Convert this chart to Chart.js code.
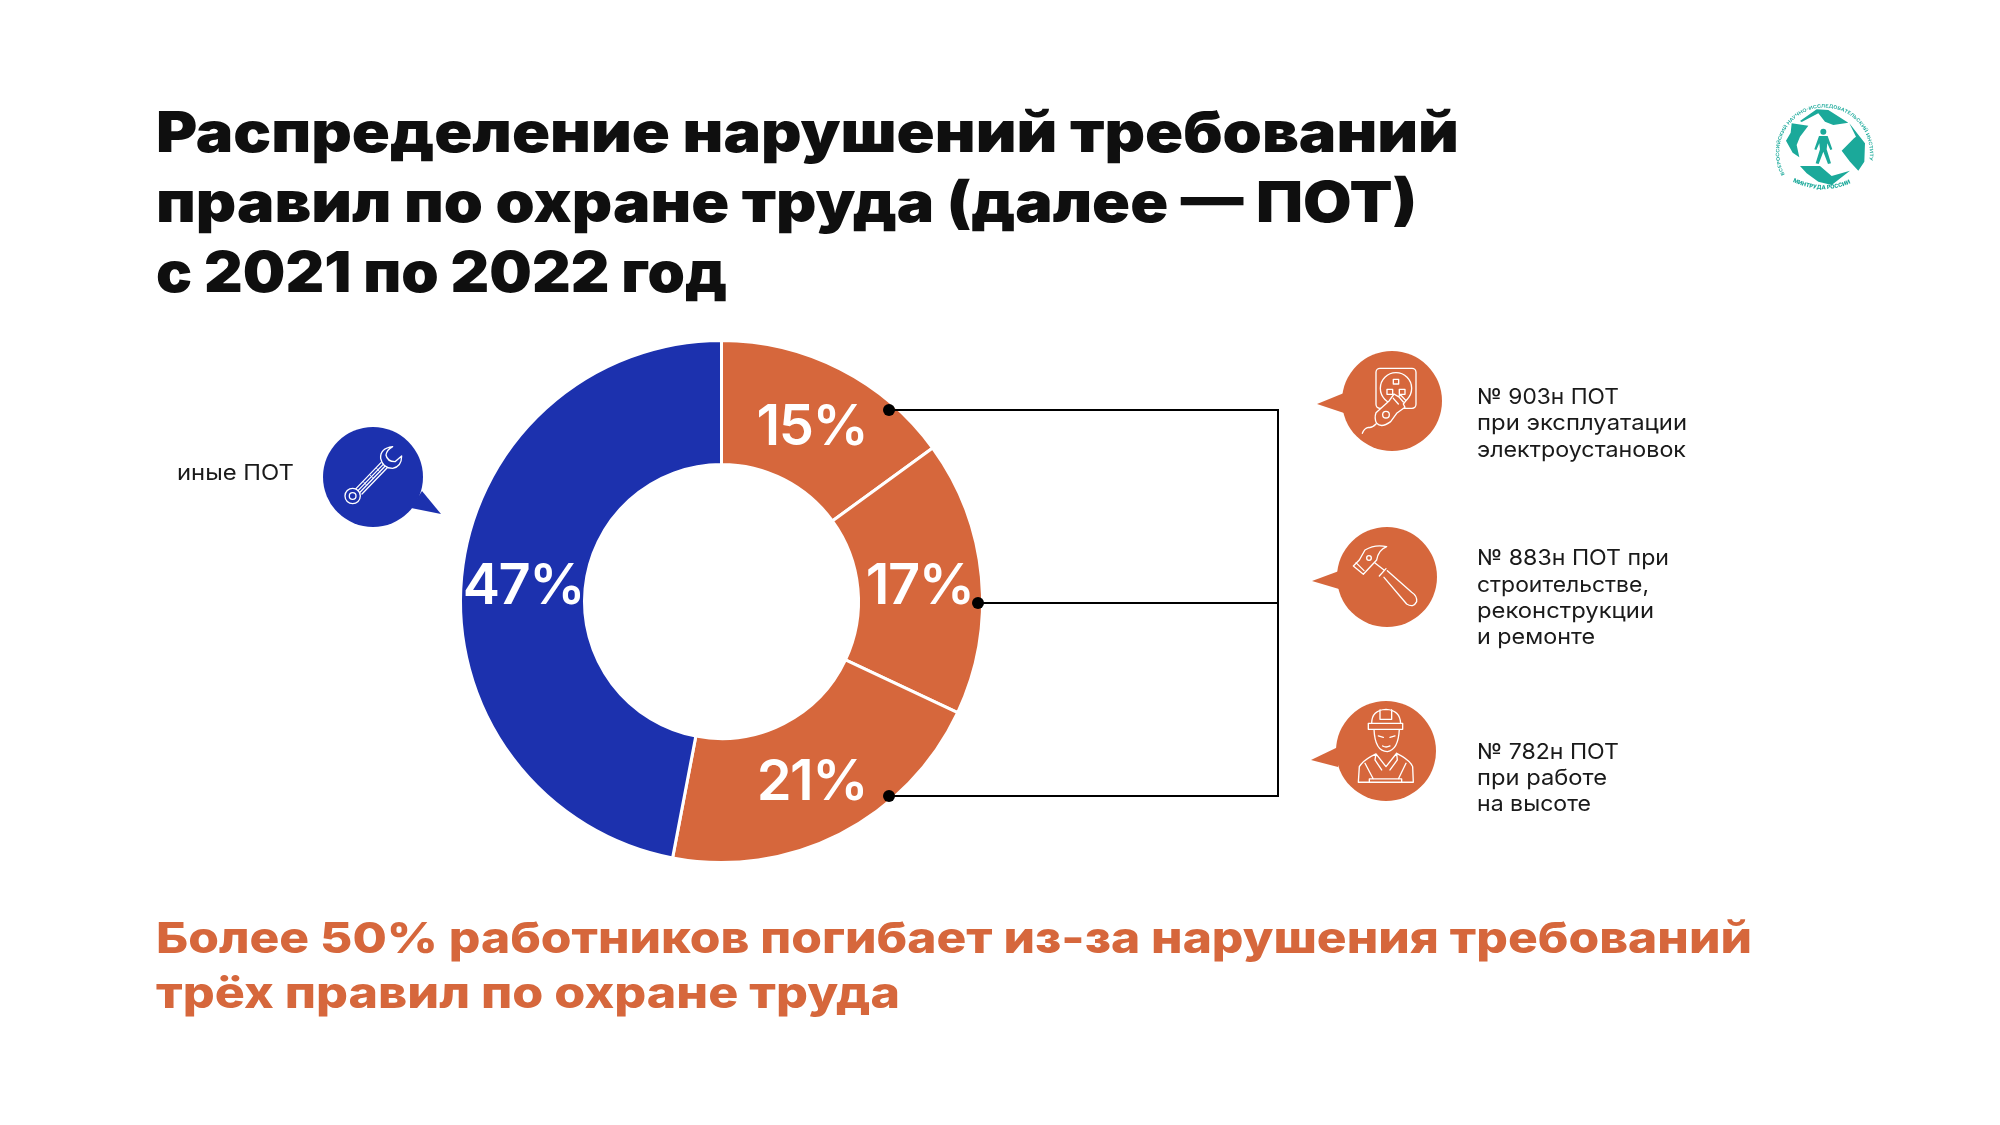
<!DOCTYPE html>
<html lang="ru"><head><meta charset="utf-8">
<style>
html,body{margin:0;padding:0;background:#fff;width:2000px;height:1125px;overflow:hidden}
canvas,svg{position:absolute;left:0;top:0}
text{font-family:Inter,"Open Sans",sans-serif}
</style>
<script src="https://cdn.jsdelivr.net/npm/chart.js@4"></script>
</head><body>
<canvas id="c" width="2000" height="1125" style="width:2000px;height:1125px"></canvas>
<svg id="s" width="2000" height="1125" viewBox="0 0 2000 1125" xmlns="http://www.w3.org/2000/svg">
  <g stroke="#000" stroke-width="2" fill="none"><path d="M889 410H1278M978 603H1278M889 796H1278M1278 409V797"/></g>
  <g fill="#000"><circle cx="889" cy="410" r="6"/><circle cx="978" cy="603" r="6"/><circle cx="889" cy="796" r="6"/></g>
  <g fill="#D6673C">
    <circle cx="1392" cy="401" r="50"/><path d="M1317 404L1344 393V413Z"/>
    <circle cx="1387" cy="577" r="50"/><path d="M1312 581L1339 571V589Z"/>
    <circle cx="1386" cy="751" r="50"/><path d="M1311 760L1338 747V767Z"/>
  </g>
  <path fill="#1C31AE" d="M441 514L422 491L411 508Z"/><circle cx="373" cy="477" r="50" fill="#1C31AE"/>
  <g transform="translate(1300 330) scale(.3333)" fill="none" stroke="#fff" stroke-width="4" stroke-linejoin="round" stroke-linecap="round">
    <rect x="228" y="115" width="120" height="120" rx="12"/><circle cx="288" cy="175" r="47"/>
    <rect x="280" y="148" width="16" height="14"/><rect x="261" y="178" width="17" height="15"/><rect x="298" y="178" width="17" height="15"/>
    <path fill="#D6673C" d="M228 248L268 212L282 192L295 200L302 195L318 212L310 222L315 232L290 250L272 275Q245 295 230 280Q222 265 228 248Z"/>
    <circle cx="258" cy="254" r="10"/><path d="M280 205L295 222M296 200L310 216M228 282Q215 295 205 292Q192 295 187 310"/>
    <path d="M160 708L178 690L195 660Q225 642 260 650Q235 660 230 690L190 733Z M168 698L192 722M226 700L252 720M238 738L258 716"/>
    <circle cx="207" cy="684" r="7"/>
    <path d="M252 742L320 822Q340 835 350 815Q352 798 335 787L262 722"/>
    <path d="M215 1180Q215 1140 258 1138Q300 1140 302 1180M205 1180H308V1198H205ZM240 1168V1140M275 1168V1140M240 1168H275M222 1198Q225 1265 262 1265Q295 1260 298 1198M235 1218L250 1222M270 1222L285 1218M248 1248Q258 1254 270 1248M175 1357L178 1310Q190 1290 228 1272L258 1310L290 1270Q330 1290 338 1310L340 1357ZM195 1300L220 1347M318 1300L295 1347M208 1357V1347H305V1357M228 1272L225 1290L245 1320M290 1270L292 1290L270 1320"/>
  </g>
  <g transform="translate(150 400) scale(.3333)" fill="none" stroke="#fff" stroke-width="4" stroke-linejoin="round" stroke-linecap="round">
    <circle cx="608" cy="288" r="23"/><circle cx="608" cy="288" r="10"/>
    <path d="M728 140Q690 145 692 175Q698 205 728 205Q755 200 755 168L735 185Q712 185 708 165Q710 150 728 140Z"/>
    <path d="M618 266L693 188M624 272L699 194M630 277L705 199M636 282L711 204"/>
    <path stroke-width="2.5" d="M640 245L650 256M660 225L670 236M680 205L690 216"/>
  </g>
  <g transform="translate(1750 80) scale(.3333)" fill="#1BA99A">
    <path d="M150 123L200 88L235 90L295 128L250 135L225 125L205 100L155 126Z"/>
    <path d="M298 130L345 190L343 245L325 272L300 245L275 212L312 175L318 170Z"/>
    <path d="M150 258L210 258L245 288L300 272L245 315L205 305L170 280Z"/>
    <path d="M125 130L175 137L150 170L140 195L148 232L128 218L108 182L122 158Z"/>
    <circle cx="220" cy="155" r="9"/>
    <path d="M207 168H233L247 208L241 210L232 190L230 208L243 250L234 252L220 215L206 252L197 250L210 208L208 190L199 210L193 208Z"/>
    <defs><path id="arcT" d="M104 283A136 136 0 1 1 358 240"/><path id="arcB" d="M128 305Q222 350 312 305"/></defs>
    <text font-size="14" font-weight="600"><textPath href="#arcT" textLength="590" lengthAdjust="spacingAndGlyphs">ВСЕРОССИЙСКИЙ НАУЧНО-ИССЛЕДОВАТЕЛЬСКИЙ ИНСТИТУТ ТРУДА</textPath></text>
    <text font-size="17" font-weight="800"><textPath href="#arcB" textLength="180" lengthAdjust="spacingAndGlyphs">МИНТРУДА РОССИИ</textPath></text>
  </g>
</svg>
<script>
const categories=["№ 903н ПОТ при эксплуатации электроустановок","№ 883н ПОТ при строительстве, реконструкции и ремонте","№ 782н ПОТ при работе на высоте","иные ПОТ"];
const shareValues=[15,17,21,47];
const sliceColors=["#D6673C","#D6673C","#D6673C","#1C31AE"];
const titleLines=["Распределение нарушений требований","правил по охране труда (далее — ПОТ)","с 2021 по 2022 год"];
const noteLines=["Более 50% работников погибает из-за нарушения требований","трёх правил по охране труда"];
const captionLines=[
 ["№ 903н ПОТ",1477,404,142],["при эксплуатации",1477,430,210],["электроустановок",1477,457,209],
 ["№ 883н ПОТ при",1477,565,192],["строительстве,",1477,592,172],["реконструкции",1477,618,177],["и ремонте",1477,644,118],
 ["№ 782н ПОТ",1477,759,142],["при работе",1477,785,130],["на высоте",1477,811,114],
 ["иные ПОТ",177,480,117]];
const NS="http://www.w3.org/2000/svg",svg=document.getElementById("s");
function addText(t,x,y,w,size,weight,fill){
  const e=document.createElementNS(NS,"text");e.textContent=t;
  e.setAttribute("x",x);e.setAttribute("y",y);e.setAttribute("textLength",w);e.setAttribute("lengthAdjust","spacingAndGlyphs");
  e.setAttribute("font-size",size);e.setAttribute("font-weight",weight);e.setAttribute("fill",fill);svg.appendChild(e);
}
[1303,1261,571].forEach((w,i)=>addText(titleLines[i],156,152+70*i,w,56.5,900,"#0f0f0f"));
[1596,744].forEach((w,i)=>addText(noteLines[i],156,953+55*i,w,43,800,"#D6673C"));
captionLines.forEach(l=>addText(l[0],l[1],l[2],l[3],22,400,"#1a1a1a"));

const pctLabels={id:"pctLabels",afterDatasetsDraw(chart){
  const ctx=chart.ctx,meta=chart.getDatasetMeta(0);
  ctx.save();ctx.fillStyle="#fff";ctx.font='600 56px Inter,sans-serif';ctx.textAlign="center";ctx.textBaseline="alphabetic";
  ctx.letterSpacing="-1.5px";
  meta.data.forEach((a,i)=>{
    const mid=(a.startAngle+a.endAngle)/2,r=(a.innerRadius+a.outerRadius)/2;
    ctx.fillText(shareValues[i]+"%",a.x+Math.cos(mid)*r,a.y+Math.sin(mid)*r+21);
  });
  ctx.restore();
}};
new Chart(document.getElementById("c"),{
  type:"doughnut",
  data:{labels:categories,datasets:[{data:shareValues,backgroundColor:sliceColors,borderColor:"#fff",borderWidth:3}]},
  options:{responsive:false,animation:false,devicePixelRatio:1,cutout:"52.5%",rotation:0,
    layout:{padding:{left:459,right:1016,top:339,bottom:261}},
    plugins:{legend:{display:false},tooltip:{enabled:false},title:{display:false}}},
  plugins:[pctLabels]
});
</script>
</body></html>
